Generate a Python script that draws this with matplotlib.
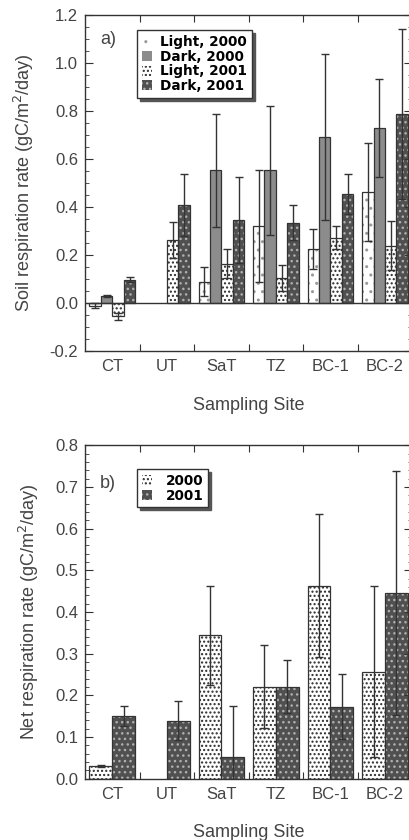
import numpy as np
import matplotlib
matplotlib.use('Agg')
import matplotlib.pyplot as plt
from matplotlib.ticker import MultipleLocator, FormatStrFormatter

plt.rcParams['font.family'] = ['Liberation Sans', 'DejaVu Sans']
plt.rcParams['axes.unicode_minus'] = False
plt.rcParams['hatch.linewidth'] = 1.0

sites = ['CT', 'UT', 'SaT', 'TZ', 'BC-1', 'BC-2']

# panel a) soil respiration
light_2000 = [-0.01, np.nan, 0.09, 0.32, 0.227, 0.464]
light_2000_err = [0.01, np.nan, 0.06, 0.233, 0.083, 0.204]
dark_2000 = [0.03, np.nan, 0.553, 0.553, 0.693, 0.728]
dark_2000_err = [0.005, np.nan, 0.237, 0.27, 0.347, 0.204]
light_2001 = [-0.055, 0.265, 0.165, 0.106, 0.272, 0.24]
light_2001_err = [0.015, 0.075, 0.062, 0.054, 0.048, 0.102]
dark_2001 = [0.097, 0.408, 0.346, 0.335, 0.454, 0.789]
dark_2001_err = [0.011, 0.13, 0.18, 0.072, 0.082, 0.354]

# panel b) net respiration
net_2000 = [0.031, np.nan, 0.344, 0.221, 0.463, 0.257]
net_2000_err = [0.003, np.nan, 0.119, 0.099, 0.171, 0.206]
net_2001 = [0.151, 0.139, 0.053, 0.221, 0.173, 0.445]
net_2001_err = [0.024, 0.047, 0.122, 0.063, 0.078, 0.293]

txt = '#444444'
edge = '#333333'

# estilos: (relleno, color del patron, patron)
estilo_a = [
    ('white', '#999999', '..'),
    ('#8c8c8c', '#8c8c8c', None),
    ('white', '#2a2a2a', '....'),
    ('#505050', '#b0b0b0', '...'),
]
estilo_b = [estilo_a[2], estilo_a[3]]


def barras(ax, x, vals, errs, ancho, est, etiqueta):
    fc, hc, h = est
    ax.bar(x, vals, ancho, color=fc, edgecolor=hc, hatch=h, linewidth=0, label=etiqueta)
    ax.bar(x, vals, ancho, fill=False, edgecolor=edge, linewidth=0.9)
    ax.errorbar(x, vals, yerr=errs, fmt='none', ecolor=edge, elinewidth=1, capsize=3, capthick=1)


def formato(ax, ymin, ymax, paso, menor, xlabel, ylabel):
    ax.set_xlim(0, 6)
    ax.set_ylim(ymin, ymax)
    ax.set_xticks([1, 2, 3, 4, 5])
    ax.set_xticklabels([])
    ax.set_xticks(np.arange(6) + 0.5, minor=True)
    ax.set_xticklabels(sites, minor=True)
    ax.tick_params(axis='x', which='major', direction='in', length=5, top=True, color=edge)
    ax.tick_params(axis='x', which='minor', length=0, pad=6, labelsize=12, labelcolor=txt)
    ax.yaxis.set_major_locator(MultipleLocator(paso))
    ax.yaxis.set_minor_locator(MultipleLocator(menor))
    ax.yaxis.set_major_formatter(FormatStrFormatter('%.1f'))
    ax.tick_params(axis='y', which='major', direction='in', length=6, right=True, labelsize=12,
                   labelcolor=txt, color=edge, pad=5)
    ax.tick_params(axis='y', which='minor', direction='in', length=3, right=True, color=edge)
    for s in ax.spines.values():
        s.set_color(edge)
        s.set_linewidth(1)
    ax.set_xlabel(xlabel, fontsize=13, color=txt, labelpad=16)
    ax.set_ylabel(ylabel, fontsize=13, color=txt, labelpad=10)


fig = plt.figure(figsize=(4.09, 8.40), dpi=100)
ax1 = fig.add_axes([0.208, 0.582, 0.800, 0.400])
ax2 = fig.add_axes([0.208, 0.073, 0.800, 0.397])

centros = np.arange(len(sites)) + 0.5
w = 0.21
series_a = [(light_2000, light_2000_err, 'Light, 2000'),
            (dark_2000, dark_2000_err, 'Dark, 2000'),
            (light_2001, light_2001_err, 'Light, 2001'),
            (dark_2001, dark_2001_err, 'Dark, 2001')]
for k, (v, e, lab) in enumerate(series_a):
    barras(ax1, centros + (k - 1.5) * w, v, e, w, estilo_a[k], lab)
ax1.axhline(0, color=edge, linewidth=1)
formato(ax1, -0.2, 1.2, 0.2, 0.05, 'Sampling Site', 'Soil respiration rate (gC/m$^2$/day)')
ax1.text(0.046, 0.926, 'a)', transform=ax1.transAxes, fontsize=13, color=txt, va='center')
leg1 = ax1.legend(loc='upper left', bbox_to_anchor=(0.159, 0.955), borderaxespad=0,
                  fancybox=False, shadow={'color': '#555555', 'alpha': 1}, edgecolor=edge,
                  handlelength=0.75, handleheight=0.75, handletextpad=0.6, labelspacing=0.05,
                  borderpad=0.35, prop={'family': 'DejaVu Sans', 'weight': 'bold', 'size': 9.8})
leg1.get_frame().set_linewidth(1)

w2 = 0.42
series_b = [(net_2000, net_2000_err, '2000'), (net_2001, net_2001_err, '2001')]
for k, (v, e, lab) in enumerate(series_b):
    barras(ax2, centros + (k - 0.5) * w2, v, e, w2, estilo_b[k], lab)
formato(ax2, 0.0, 0.8, 0.1, 0.02, 'Sampling Site', 'Net respiration rate (gC/m$^2$/day)')
ax2.text(0.046, 0.886, 'b)', transform=ax2.transAxes, fontsize=13, color=txt, va='center')
leg2 = ax2.legend(loc='upper left', bbox_to_anchor=(0.159, 0.928), borderaxespad=0,
                  fancybox=False, shadow={'color': '#555555', 'alpha': 1}, edgecolor=edge,
                  handlelength=0.75, handleheight=0.75, handletextpad=1.0, labelspacing=0.05,
                  borderpad=0.35, prop={'family': 'DejaVu Sans', 'weight': 'bold', 'size': 9.8})
leg2.get_frame().set_linewidth(1)

fig.savefig('out.png', dpi=100)
